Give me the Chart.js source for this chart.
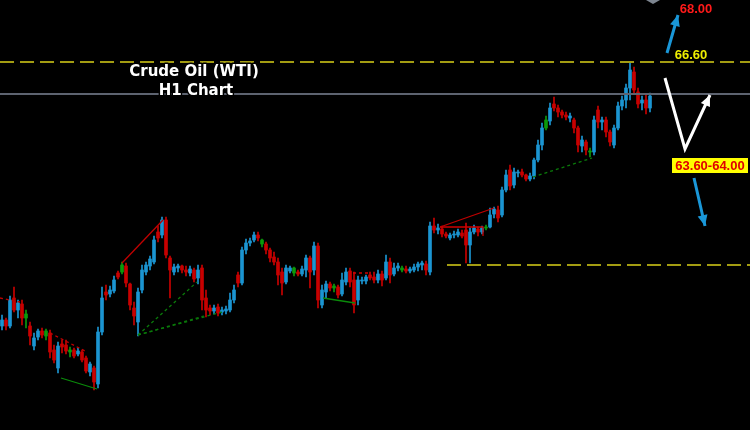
<!DOCTYPE html>
<html>
<head>
<meta charset="utf-8">
<script src="https://cdn.jsdelivr.net/npm/chart.js@4"></script>
<style>
  html, body { margin: 0; padding: 0; background: #000; }
  #wrap { width: 750px; height: 430px; }
</style>
</head>
<body>
<div id="wrap"><canvas id="chart" width="750" height="430"></canvas></div>
<script>
// --- Candle data (H1) ---
const opens = [
  63.96,64.02,63.96,64.24,64.12,64.18,64.04,63.96,63.76,63.85,
  63.91,63.86,63.89,63.72,63.54,63.78,63.77,63.70,63.72,63.68,
  63.70,63.64,63.50,63.54,63.38,63.90,64.30,64.28,64.31,64.49,
  64.50,64.56,64.38,64.14,64.00,64.32,64.50,64.56,64.60,64.90,
  64.87,65.02,64.64,64.50,64.54,64.56,64.52,64.49,64.52,64.44,
  64.54,64.24,64.14,64.11,64.15,64.10,64.11,64.12,64.22,64.47,
  64.39,64.72,64.79,64.82,64.87,64.82,64.78,64.72,64.65,64.60,
  64.50,64.40,64.51,64.54,64.50,64.48,64.52,64.64,64.52,64.76,
  64.17,64.30,64.38,64.34,64.35,64.28,64.40,64.51,64.42,64.22,
  64.41,64.41,64.47,64.45,64.42,64.48,64.44,64.60,64.48,64.54,
  64.54,64.53,64.51,64.52,64.55,64.57,64.58,64.50,64.96,64.92,
  64.93,64.88,64.84,64.87,64.87,64.89,64.92,64.77,64.90,64.93,
  64.90,64.94,64.95,65.08,65.12,65.07,65.32,65.52,65.37,65.49,
  65.50,65.47,65.43,65.46,65.62,65.77,65.94,66.01,66.18,66.14,
  66.10,66.07,66.04,66.02,65.94,65.76,65.80,65.71,65.70,66.12,
  66.00,66.02,65.90,65.77,65.94,66.16,66.22,66.34,66.50,66.30,
  66.19,66.22,66.14
];
const highs = [
  64.07,64.04,64.26,64.35,64.22,64.22,64.12,64.00,63.89,63.93,
  63.94,63.93,63.92,63.77,63.80,63.82,63.82,63.75,63.74,63.74,
  63.72,63.66,63.60,63.56,63.95,64.35,64.37,64.36,64.46,64.51,
  64.60,64.59,64.39,64.20,64.34,64.57,64.60,64.66,64.86,64.96,
  65.05,65.05,64.66,64.58,64.58,64.57,64.56,64.56,64.54,64.57,
  64.57,64.32,64.17,64.17,64.18,64.15,64.16,64.29,64.37,64.50,
  64.75,64.83,64.84,64.90,64.90,64.83,64.80,64.74,64.70,64.64,
  64.54,64.57,64.56,64.55,64.52,64.56,64.67,64.66,64.80,64.79,
  64.37,64.41,64.40,64.38,64.37,64.49,64.54,64.54,64.50,64.46,
  64.45,64.47,64.50,64.50,64.52,64.51,64.67,64.64,64.59,64.59,
  64.56,64.56,64.55,64.58,64.60,64.61,64.61,65.00,65.04,64.98,
  64.96,64.90,64.89,64.91,64.93,64.92,64.99,64.94,64.97,64.95,
  64.96,64.97,65.14,65.15,65.16,65.35,65.52,65.57,65.54,65.52,
  65.53,65.48,65.49,65.64,65.82,65.99,66.06,66.19,66.25,66.17,
  66.12,66.10,66.09,66.04,65.96,65.86,65.82,65.74,66.06,66.16,
  66.05,66.05,65.92,65.97,66.20,66.26,66.38,66.59,66.55,66.34,
  66.26,66.27,66.29
];
const lows = [
  63.92,63.92,63.94,64.10,64.04,63.97,63.94,63.77,63.72,63.82,
  63.84,63.82,63.64,63.59,63.49,63.69,63.68,63.65,63.64,63.66,
  63.60,63.49,63.46,63.32,63.34,63.87,64.22,64.25,64.29,64.43,
  64.48,64.35,64.12,63.97,63.86,64.29,64.47,64.52,64.58,64.80,
  64.84,64.64,64.24,64.47,64.50,64.49,64.46,64.46,64.40,64.38,
  64.12,64.05,64.07,64.08,64.06,64.07,64.08,64.10,64.19,64.35,
  64.37,64.68,64.76,64.80,64.81,64.75,64.68,64.60,64.57,64.37,
  64.27,64.38,64.49,64.46,64.46,64.46,64.45,64.34,64.47,64.14,
  64.14,64.24,64.31,64.30,64.24,64.26,64.37,64.35,64.09,64.17,
  64.38,64.38,64.42,64.39,64.39,64.36,64.42,64.39,64.46,64.51,
  64.50,64.49,64.49,64.50,64.51,64.52,64.47,64.47,64.89,64.88,
  64.85,64.84,64.82,64.84,64.85,64.84,64.59,64.59,64.88,64.86,
  64.88,64.92,64.94,65.04,65.00,65.05,65.30,65.32,65.34,65.45,
  65.45,65.41,65.41,65.43,65.60,65.72,65.92,65.97,66.11,66.05,
  66.04,66.02,66.00,65.89,65.70,65.70,65.67,65.65,65.67,65.94,
  65.92,65.85,65.76,65.74,65.92,66.12,66.14,66.22,66.28,66.14,
  66.12,66.08,66.10
];
const closes = [
  64.02,63.96,64.22,64.12,64.19,64.04,64.08,63.86,63.84,63.91,
  63.87,63.91,63.70,63.62,63.76,63.75,63.71,63.72,63.66,63.71,
  63.62,63.51,63.58,63.40,63.90,64.24,64.27,64.32,64.42,64.45,
  64.57,64.39,64.17,64.06,64.30,64.52,64.57,64.63,64.82,64.84,
  65.02,64.67,64.52,64.55,64.56,64.52,64.50,64.53,64.43,64.52,
  64.22,64.12,64.11,64.14,64.09,64.12,64.13,64.22,64.32,64.39,
  64.72,64.79,64.81,64.87,64.84,64.78,64.72,64.64,64.60,64.47,
  64.39,64.54,64.54,64.49,64.48,64.53,64.64,64.50,64.76,64.22,
  64.32,64.38,64.34,64.36,64.27,64.42,64.50,64.40,64.17,64.42,
  64.42,64.45,64.44,64.42,64.48,64.42,64.60,64.47,64.54,64.56,
  64.52,64.51,64.53,64.55,64.58,64.59,64.52,64.96,64.92,64.94,
  64.88,64.86,64.87,64.88,64.90,64.86,64.77,64.90,64.94,64.90,
  64.94,64.95,65.07,65.13,65.04,65.32,65.47,65.36,65.50,65.50,
  65.47,65.43,65.46,65.62,65.77,65.94,66.02,66.14,66.14,66.10,
  66.07,66.05,66.06,65.94,65.77,65.82,65.72,65.70,66.02,66.00,
  66.02,65.90,65.80,65.94,66.16,66.22,66.34,66.52,66.32,66.18,
  66.22,66.14,66.26
];
// candles the platform paints green
const greenBars = [6, 11, 17, 30, 65, 73, 83, 100, 121, 136, 147];

// --- Levels and drawn trend lines (bar index, price) ---
const resistance = 66.60;
const lastPrice = 66.28;
const support = 64.57;
const supportStart = 111.25;
const trendLines = [
  { pts: [[-0.5, 64.24], [4.5, 64.20]], color: '#c00000', dash: [3, 3] },
  { pts: [[12, 63.89], [21.25, 63.70]], color: '#c00000', dash: [3, 3] },
  { pts: [[14.75, 63.44], [23.75, 63.33]], color: '#0a8a0a', dash: [] },
  { pts: [[30, 64.59], [40.25, 65.02]], color: '#c00000', dash: [] },
  { pts: [[34, 63.87], [48.75, 64.40]], color: '#0a7a0a', dash: [3, 3] },
  { pts: [[34, 63.87], [50.5, 64.06]], color: '#0a7a0a', dash: [3, 3] },
  { pts: [[34, 63.87], [55, 64.10]], color: '#0a7a0a', dash: [3, 3] },
  { pts: [[80.25, 64.24], [88.25, 64.19]], color: '#0a8a0a', dash: [] },
  { pts: [[87.75, 64.49], [91.5, 64.49]], color: '#d00000', dash: [3, 3] },
  { pts: [[109.5, 64.95], [123, 65.14]], color: '#c00000', dash: [] },
  { pts: [[109.5, 64.95], [120.25, 64.95], [120.25, 64.86]], color: '#d00000', dash: [] },
  { pts: [[132.75, 65.45], [147.5, 65.64]], color: '#0a7a0a', dash: [3, 3] }
];

const upColor = '#1b95d2';
const downColor = '#c80000';
const greenColor = '#0b9a0b';
const idx = opens.map((_, i) => i);
const colorOf = i => greenBars.includes(i) ? greenColor
  : (closes[i] >= opens[i] ? upColor : downColor);
const barColors = idx.map(colorOf);

const lineDatasets = [
  { pts: [[-0.5, resistance], [187, resistance]], color: '#a39c12', dash: [14, 6], width: 2 },
  { pts: [[-0.5, lastPrice], [187, lastPrice]], color: '#5d6370', dash: [], width: 2 },
  { pts: [[supportStart, support], [187, support]], color: '#a39c12', dash: [14, 6], width: 2 }
].concat(trendLines.map(t => ({ ...t, width: 1.3 }))).map(t => ({
  type: 'line',
  data: t.pts.map(p => ({ x: p[0], y: p[1] })),
  borderColor: t.color,
  borderWidth: t.width,
  borderDash: t.dash,
  pointRadius: 0,
  fill: false,
  tension: 0,
  order: 1
}));

// --- Annotation drawing (arrows + labels) ---
function arrow(ctx, pts, color, width) {
  ctx.save();
  ctx.strokeStyle = color;
  ctx.fillStyle = color;
  ctx.lineWidth = width;
  ctx.lineJoin = 'miter';
  ctx.beginPath();
  ctx.moveTo(pts[0][0], pts[0][1]);
  for (let k = 1; k < pts.length; k++) ctx.lineTo(pts[k][0], pts[k][1]);
  const [x1, y1] = pts[pts.length - 2];
  const [x2, y2] = pts[pts.length - 1];
  const a = Math.atan2(y2 - y1, x2 - x1);
  const len = 11, half = 5;
  const bx = x2 - Math.cos(a) * len, by = y2 - Math.sin(a) * len;
  ctx.lineTo(bx, by);
  ctx.stroke();
  ctx.beginPath();
  ctx.moveTo(x2, y2);
  ctx.lineTo(bx + Math.sin(a) * half, by - Math.cos(a) * half);
  ctx.lineTo(bx - Math.sin(a) * half, by + Math.cos(a) * half);
  ctx.closePath();
  ctx.fill();
  ctx.restore();
}

function outlinedText(ctx, text, x, y, font, fill, stroke) {
  ctx.font = font;
  ctx.textAlign = 'center';
  ctx.textBaseline = 'middle';
  ctx.lineJoin = 'round';
  ctx.lineWidth = 3;
  ctx.strokeStyle = stroke;
  ctx.strokeText(text, x, y);
  ctx.fillStyle = fill;
  ctx.fillText(text, x, y);
}

const annotations = {
  id: 'annotations',
  afterDraw(chart) {
    const { ctx, scales: { x, y } } = chart;
    const P = (i, p) => [x.getPixelForValue(i), y.getPixelForValue(p)];

    // small grey marker at the top edge
    ctx.save();
    ctx.fillStyle = '#7d8590';
    ctx.beginPath();
    ctx.moveTo(646, 0); ctx.lineTo(660, 0); ctx.lineTo(653, 4);
    ctx.closePath(); ctx.fill();
    ctx.restore();

    arrow(ctx, [P(166.25, 66.69), P(169, 67.07)], '#1a97d8', 3);
    arrow(ctx, [P(165.75, 66.44), P(170.75, 65.73), P(177, 66.27)], '#ffffff', 3);
    arrow(ctx, [P(173, 65.44), P(175.75, 64.96)], '#1a97d8', 3);

    outlinedText(ctx, 'Crude Oil (WTI)', 194, 72, 'bold 15px "DejaVu Sans"', '#ffffff', '#000000');
    outlinedText(ctx, 'H1 Chart', 196, 91, 'bold 15px "DejaVu Sans"', '#ffffff', '#000000');

    const [lx1, ly1] = P(173.5, 67.13);
    outlinedText(ctx, '68.00', lx1, ly1, 'bold 13px "Liberation Sans"', '#ff1a1a', '#000000');
    const [lx2, ly2] = P(172.25, 66.67);
    outlinedText(ctx, '66.60', lx2, ly2, 'bold 13px "Liberation Sans"', '#eeee00', '#000000');

    const [bx, by] = P(177, 65.57);
    ctx.save();
    ctx.fillStyle = '#ffff00';
    ctx.fillRect(bx - 38, by - 7, 76, 15);
    ctx.font = 'bold 13px "Liberation Sans"';
    ctx.textAlign = 'center';
    ctx.textBaseline = 'middle';
    ctx.fillStyle = '#e00000';
    ctx.fillText('63.60-64.00', bx, by + 1);
    ctx.restore();
  }
};

new Chart(document.getElementById('chart').getContext('2d'), {
  type: 'bar',
  data: {
    datasets: [
      {
        label: 'wicks',
        data: idx.map(i => ({ x: i, y: [lows[i], highs[i]] })),
        backgroundColor: barColors,
        barThickness: 1,
        grouped: false,
        order: 3
      },
      {
        label: 'bodies',
        data: idx.map(i => ({ x: i, y: [opens[i], closes[i]] })),
        backgroundColor: barColors,
        barThickness: 3,
        minBarLength: 1,
        grouped: false,
        order: 2
      },
      ...lineDatasets
    ]
  },
  options: {
    responsive: false,
    animation: false,
    layout: { padding: 0 },
    scales: {
      x: { type: 'linear', min: -0.5, max: 187, offset: false, display: false },
      y: { min: 62.92, max: 67.22, display: false }
    },
    plugins: {
      legend: { display: false },
      tooltip: { enabled: false }
    }
  },
  plugins: [annotations]
});
</script>
</body>
</html>
